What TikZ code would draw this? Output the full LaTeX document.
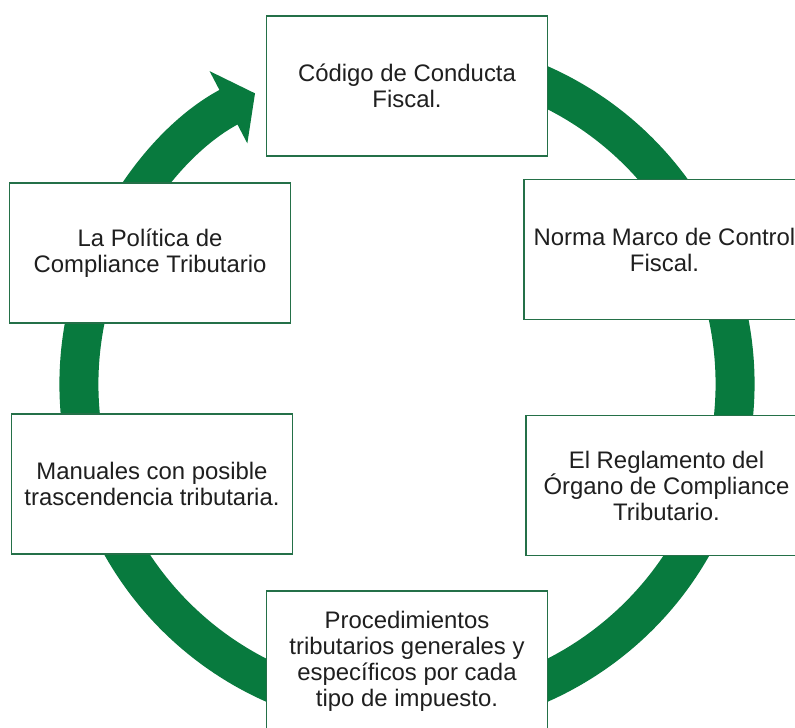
\documentclass[tikz,border=0pt]{standalone}
\usepackage{fontspec}
\setmainfont{Liberation Sans}
\usetikzlibrary{arrows.meta}
\definecolor{ringgreen}{RGB}{8,122,62}
\definecolor{boxgreen}{RGB}{36,112,72}

\begin{document}
\begin{tikzpicture}[
  box/.style={draw=boxgreen,line width=0.9pt,fill=white,minimum width=5.62cm,minimum height=2.8cm,align=center,font=\fontsize{13.6}{14.8}\selectfont,text=black!88},
  ring/.style={draw=ringgreen,line width=0.78cm,-{Triangle[length=0.6cm,width=1.6cm]}}
]
\useasboundingbox (-8.14,-6.86) rectangle (7.76,7.68);
\clip (-8.14,-6.86) rectangle (7.76,7.68);

% green cycle behind the boxes
\coordinate (c) at (0,0);
\draw[ring] (c) ++(75:6.56) arc[start angle=75,end angle=-242.4,radius=6.56];

% boxes, clockwise from the top
\node[box] (codigo)         at (0,5.96)    {Código de Conducta\\Fiscal.};
\node[box] (norma)          at (5.15,2.69) {Norma Marco de Control\\Fiscal.};
\node[box] (reglamento)     at (5.19,-2.03){El Reglamento del\\Órgano de Compliance\\Tributario.};
\node[box] (procedimientos) at (0,-5.54)   {Procedimientos\\tributarios generales y\\específicos por cada\\tipo de impuesto.};
\node[box] (manuales)       at (-5.1,-2.0) {Manuales con posible\\trascendencia tributaria.};
\node[box] (politica)       at (-5.14,2.62){La Política de\\Compliance Tributario};
\end{tikzpicture}
\end{document}
